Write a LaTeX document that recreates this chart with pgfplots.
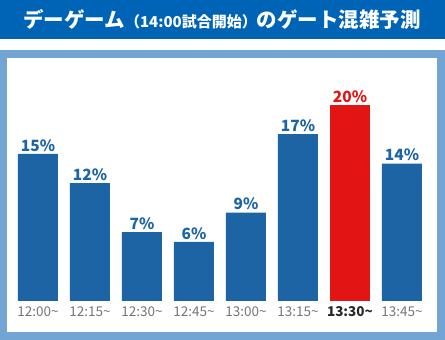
\documentclass[border=0pt]{standalone}
\usepackage{pgfplots}
\pgfplotsset{compat=1.18}
\usepackage{fontspec}
\setmainfont{Noto Sans CJK JP}
\definecolor{titleblue}{RGB}{0,100,182}
\definecolor{frameblue}{RGB}{114,165,211}
\definecolor{barblue}{RGB}{28,100,164}
\definecolor{barred}{RGB}{226,20,20}
\definecolor{ticgray}{RGB}{118,118,118}
\definecolor{ticdark}{RGB}{40,40,40}
\begin{document}
\begin{tikzpicture}[x=1pt,y=1pt]
\fill[white] (0,0) rectangle (445,340);
\fill[titleblue] (0,300.5) rectangle (445,340);
\fill[frameblue] (0,0) rectangle (445,290);
\fill[white] (7,8) rectangle (437,282);
\node[white, font=\bfseries\fontsize{20.5}{20.5}\selectfont] at (222,320) {デーゲーム{\fontsize{15}{15}\selectfont（14:00試合開始）}のゲート混雑予測};
\begin{axis}[
  at={(23,40)}, anchor=south west,
  scale only axis, width=416pt, height=215.6pt,
  xmin=-0.5, xmax=7.5, ymin=0, ymax=22,
  axis line style={draw=none},
  ytick=\empty,
  xtick={0,...,7},
  xticklabels={12:00\textasciitilde, 12:15\textasciitilde, 12:30\textasciitilde, 12:45\textasciitilde, 13:00\textasciitilde, 13:15\textasciitilde, {\bfseries\color{ticdark}13:30\textasciitilde}, 13:45\textasciitilde},
  xticklabel style={font=\fontsize{13.5}{13.5}\selectfont, text=ticgray, yshift=-2pt},
  major tick length=0pt,
  ybar, bar width=40pt, bar shift=0pt,
  /pgf/number format/assume math mode=true,
  nodes near coords={\pgfmathprintnumber{\pgfplotspointmeta}\%},
  nodes near coords style={font=\bfseries\fontsize{15.5}{15.5}\selectfont, yshift=-1pt},
  clip=false,
]
\addplot[fill=barblue, draw=none, nodes near coords style={text=barblue}] coordinates {(0,15) (1,12) (2,7) (3,6) (4,9) (5,17) (7,14)};
\addplot[fill=barred, draw=none, nodes near coords style={text=barred}] coordinates {(6,20)};
\end{axis}
\end{tikzpicture}
\end{document}
